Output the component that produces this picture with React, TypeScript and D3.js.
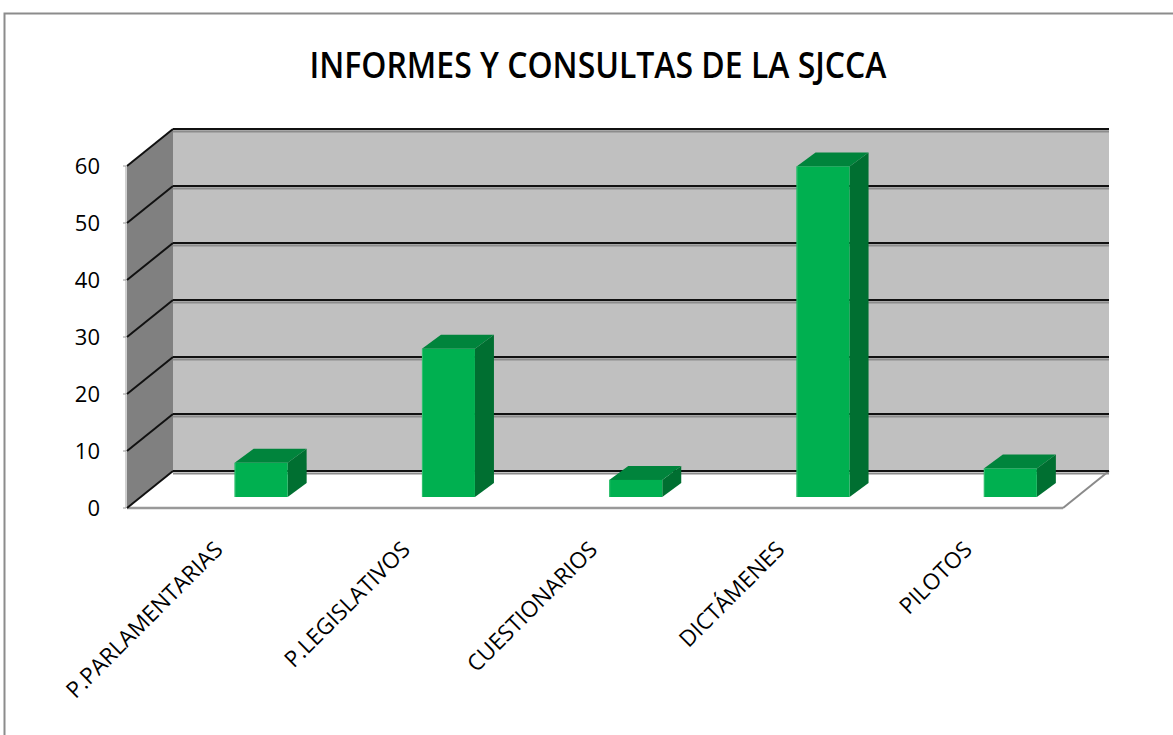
import * as d3 from "d3";

const categories = ["P.PARLAMENTARIAS", "P.LEGISLATIVOS", "CUESTIONARIOS", "DICTÁMENES", "PILOTOS"];
const values = [6, 26, 3, 58, 5];
const yTicks = [0, 10, 20, 30, 40, 50, 60];
const title = "INFORMES Y CONSULTAS DE LA SJCCA";

const W = 1173;
const H = 735;

// back wall / floor geometry
const wallLeft = 173;
const wallRight = 1109;
const depthX = -46;
const depthY = 37;
// bar extrusion
const barDX = 19;
const barDY = -14;

const FONT = "'Open Sans', 'DejaVu Sans', sans-serif";

const App = () => {
  const yBack = d3.scaleLinear().domain([0, 60]).range([471, 129]);
  const yBar = d3.scaleLinear().domain([0, 60]).range([497, 155]);
  const x = d3
    .scaleBand<string>()
    .domain(categories)
    .range([167.5, 1104])
    .paddingInner(0.717)
    .paddingOuter(0.3585);

  const y0 = yBack(0);
  const yTop = yBack(60);
  const frontLeft = wallLeft + depthX;
  const frontRight = wallRight + depthX;
  const frontFloor = y0 + depthY;

  const sidePoly = [
    [frontLeft, yTop + depthY],
    [wallLeft, yTop],
    [wallLeft, y0],
    [frontLeft, frontFloor],
  ];
  const floorPoly = [
    [wallLeft, y0],
    [wallRight, y0],
    [frontRight, frontFloor],
    [frontLeft, frontFloor],
  ];
  const pts = (p: number[][]) => p.map((d) => d.join(",")).join(" ");

  return (
    <svg
      width={W}
      height={H}
      style={{ position: "absolute", left: 0, top: 0, background: "#fff" }}
    >
      <rect x={4.5} y={13.5} width={W + 10} height={H + 10} fill="#fff" stroke="#8c8c8c" strokeWidth={2} />

      <text
        x={598}
        y={78}
        textAnchor="middle"
        fontFamily={FONT}
        fontWeight="600"
        fontSize={36}
        textLength={577}
        lengthAdjust="spacingAndGlyphs"
        fill="#000"
      >
        {title}
      </text>

      {/* back wall */}
      <rect x={wallLeft} y={yTop} width={wallRight - wallLeft} height={y0 - yTop} fill="#c0c0c0" />
      {/* side wall */}
      <polygon points={pts(sidePoly)} fill="#808080" />
      <line x1={frontLeft - 1} x2={frontLeft - 1} y1={yTop + depthY} y2={frontFloor} stroke="#d0d0d0" strokeWidth={2} />
      {/* floor */}
      <polygon points={pts(floorPoly)} fill="#fff" />
      <line x1={frontLeft} x2={frontRight} y1={frontFloor} y2={frontFloor} stroke="#999" strokeWidth={2.5} />
      <line x1={frontRight} x2={wallRight} y1={frontFloor} y2={y0} stroke="#8a8a8a" strokeWidth={2} />

      {/* gridlines */}
      {yTicks.map((t) => (
        <g key={t}>
          <line x1={wallLeft} x2={wallRight} y1={yBack(t) + 2.5} y2={yBack(t) + 2.5} stroke="#8c8c8c" strokeWidth={2} />
          <line x1={wallLeft} x2={wallRight} y1={yBack(t)} y2={yBack(t)} stroke="#111" strokeWidth={2} />
          <line x1={wallLeft} x2={frontLeft} y1={yBack(t)} y2={yBack(t) + depthY} stroke="#111" strokeWidth={2} />
          <line x1={frontLeft - 4} x2={frontLeft - 1} y1={yBack(t) + depthY} y2={yBack(t) + depthY} stroke="#999" strokeWidth={1} />
          <text
            x={100}
            y={yBack(t) + depthY}
            dy="0.36em"
            textAnchor="end"
            fontFamily={FONT}
            fontSize={22}
            fill="#000"
          >
            {t}
          </text>
        </g>
      ))}

      {/* bars */}
      {categories.map((c, i) => {
        const bx = x(c) as number;
        const bw = x.bandwidth();
        const top = yBar(values[i]);
        const bottom = yBar(0);
        const topFace = [
          [bx, top],
          [bx + barDX, top + barDY],
          [bx + bw + barDX, top + barDY],
          [bx + bw, top],
        ];
        const sideFace = [
          [bx + bw, top],
          [bx + bw + barDX, top + barDY],
          [bx + bw + barDX, bottom + barDY],
          [bx + bw, bottom],
        ];
        return (
          <g key={c}>
            <polygon points={pts(sideFace)} fill="#006f31" />
            <polygon points={pts(topFace)} fill="#00843c" />
            <rect x={bx} y={top} width={bw} height={bottom - top} fill="#00b050" />
            <line x1={bx + 0.5} x2={bx + 0.5} y1={top} y2={bottom} stroke="#33c070" strokeWidth={1} />
          </g>
        );
      })}

      {/* category labels */}
      {categories.map((c) => {
        const cx = (x(c) as number) + x.bandwidth() / 2 - 37;
        const cy = 551;
        return (
          <text
            key={c}
            transform={`translate(${cx},${cy}) rotate(-45)`}
            textAnchor="end"
            fontFamily={FONT}
            fontSize={22.5}
            fill="#000"
          >
            {c}
          </text>
        );
      })}
    </svg>
  );
};

export default App;
